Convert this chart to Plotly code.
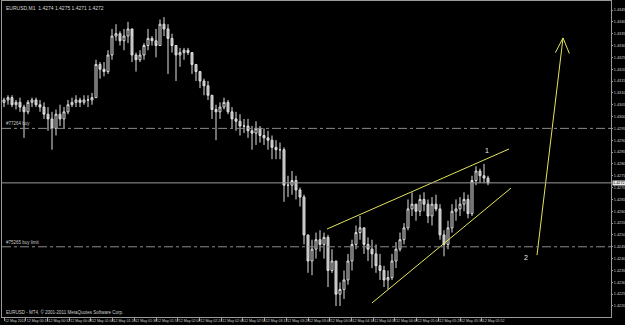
import plotly.graph_objects as go

# ---- data (EURUSD M1, prices) ----
highs = [1.4308,1.4309,1.4309,1.4307,1.4308,1.4305,1.4307,1.4308,1.4308,1.4307,
         1.4306,1.4304,1.4302,1.4303,1.4305,1.4304,1.4307,1.4308,1.4309,1.4308,
         1.4309,1.4309,1.4310,1.4324,1.4323,1.4323,1.4328,1.4337,1.4339,1.4336,
         1.4337,1.4340,1.4334,1.4327,1.4328,1.4331,1.4337,1.4334,1.4337,1.4341,
         1.4342,1.4339,1.4335,1.4330,1.4329,1.4329,1.4329,1.4326,1.4322,1.4319,
         1.4316,1.4315,1.4309,1.4305,1.4306,1.4308,1.4307,1.4304,1.4302,1.4301,
         1.4299,1.4299,1.4296,1.4298,1.4296,1.4295,1.4294,1.4292,1.4290,1.4289,
         1.4287,1.4275,1.4277,1.4275,1.4270,1.4267,1.4250,1.4248,1.4251,1.4252,
         1.4251,1.4250,1.4244,1.4239,1.4230,1.4235,1.4242,1.4248,1.4254,1.4258,
         1.4253,1.4249,1.4248,1.4246,1.4242,1.4237,1.4235,1.4242,1.4247,1.4251,
         1.4255,1.4265,1.4268,1.4263,1.4267,1.4268,1.4265,1.4266,1.4267,1.4263,
         1.4252,1.4256,1.4263,1.4265,1.4266,1.4268,1.4267,1.4275,1.4279,1.4278,
         1.4280,1.4275]
lows = [1.4304,1.4305,1.4304,1.4303,1.4302,1.4291,1.4301,1.4304,1.4304,1.4302,
        1.4299,1.4294,1.4286,1.4292,1.4296,1.4295,1.4301,1.4304,1.4304,1.4304,
        1.4305,1.4304,1.4305,1.4308,1.4316,1.4317,1.4318,1.4324,1.4332,1.4330,
        1.4328,1.4331,1.4323,1.4319,1.4323,1.4324,1.4328,1.4330,1.4325,1.4330,
        1.4334,1.4318,1.4327,1.4315,1.4321,1.4324,1.4326,1.4318,1.4315,1.4312,
        1.4309,1.4307,1.4299,1.4290,1.4299,1.4303,1.4301,1.4295,1.4294,1.4292,
        1.4293,1.4291,1.4286,1.4288,1.4289,1.4288,1.4286,1.4282,1.4282,1.4282,
        1.4264,1.4266,1.4267,1.4265,1.4262,1.4246,1.4234,1.4233,1.4240,1.4243,
        1.4240,1.4228,1.4234,1.4220,1.4220,1.4223,1.4229,1.4235,1.4244,1.4248,
        1.4242,1.4239,1.4236,1.4234,1.4231,1.4228,1.4227,1.4231,1.4236,1.4243,
        1.4246,1.4252,1.4258,1.4256,1.4258,1.4260,1.4255,1.4254,1.4260,1.4248,
        1.4241,1.4244,1.4251,1.4256,1.4258,1.4260,1.4257,1.4258,1.4271,1.4272,
        1.4272,1.4271]
closes = [1.4307,1.4308,1.4305,1.4306,1.4304,1.4302,1.4306,1.4307,1.4305,1.4304,
          1.4301,1.4299,1.4295,1.4301,1.4299,1.4302,1.4305,1.4306,1.4307,1.4306,
          1.4307,1.4307,1.4308,1.4322,1.4320,1.4319,1.4326,1.4334,1.4335,1.4332,
          1.4334,1.4337,1.4326,1.4324,1.4326,1.4330,1.4333,1.4332,1.4330,1.4339,
          1.4337,1.4333,1.4330,1.4326,1.4327,1.4328,1.4327,1.4322,1.4319,1.4315,
          1.4313,1.4309,1.4303,1.4302,1.4304,1.4306,1.4302,1.4299,1.4298,1.4296,
          1.4296,1.4294,1.4293,1.4295,1.4292,1.4291,1.4290,1.4287,1.4286,1.4286,
          1.4271,1.4271,1.4273,1.4269,1.4266,1.4250,1.4239,1.4244,1.4248,1.4246,
          1.4249,1.4235,1.4239,1.4225,1.4227,1.4231,1.4239,1.4246,1.4251,1.4253,
          1.4246,1.4244,1.4242,1.4237,1.4235,1.4231,1.4232,1.4239,1.4244,1.4248,
          1.4253,1.4261,1.4263,1.4260,1.4265,1.4263,1.4258,1.4263,1.4261,1.4250,
          1.4246,1.4253,1.4260,1.4261,1.4263,1.4265,1.4259,1.4273,1.4277,1.4275,
          1.4274,1.4272]
first_open = 1.4306
opens = [first_open] + closes[:-1]

y_ticks = [round(1.4220 + 0.0005 * k, 4) for k in range(26)]
time_labels = ["12 May 2011", "12 May 00:16", "12 May 00:32", "12 May 00:48",
               "12 May 01:04", "12 May 01:20", "12 May 01:36", "12 May 01:52",
               "12 May 02:08", "12 May 02:24", "12 May 02:40", "12 May 02:56",
               "12 May 03:12", "12 May 03:28", "12 May 03:44", "12 May 04:00",
               "12 May 04:16", "12 May 04:32", "12 May 04:48", "12 May 05:04",
               "12 May 05:20", "12 May 05:36", "12 May 05:52"]
order_levels = [1.4295, 1.4245]
order_names = ["#77264 buy", "#75265 buy limit"]
bid = closes[-1]

upper_line = ([80.75, 126.25], [1.42525, 1.42863])
lower_line = ([92.0, 126.75], [1.42213, 1.42698])
arrow_line = ([133.25, 139.75], [1.42415, 1.43332])
wave_labels = [("1", 120.75, 1.42855), ("2", 130.5, 1.42403)]

FONT = "Liberation Sans"
NARROW = "Liberation Sans Narrow, Liberation Sans"
n = len(closes)
x = list(range(n))

fig = go.Figure()
fig.add_trace(go.Candlestick(
    x=x, open=opens, high=highs, low=lows, close=closes,
    increasing=dict(line=dict(color="#e0e0e0", width=1), fillcolor="#000000"),
    decreasing=dict(line=dict(color="#e0e0e0", width=1), fillcolor="#b0b0b0"),
    whiskerwidth=0, showlegend=False, hoverinfo="skip"))

for xs, ys in (upper_line, lower_line, arrow_line):
    fig.add_trace(go.Scatter(x=xs, y=ys, mode="lines",
                             line=dict(color="#e4e45c", width=1),
                             showlegend=False, hoverinfo="skip"))

xmin, xmax = -0.5, 151.75
ymin, ymax = 1.421535, 1.434880

shapes = []
shapes.append(dict(type="line", xref="paper", x0=0, x1=1, yref="y", y0=bid, y1=bid,
                   line=dict(color="#9a9a9a", width=1)))
for lv in order_levels:
    shapes.append(dict(type="line", xref="paper", x0=0, x1=1, yref="y", y0=lv, y1=lv,
                       line=dict(color="#8a8a8a", width=1, dash="dashdot")))
tipx, tipy = arrow_line[0][1], arrow_line[1][1]
shapes.append(dict(type="line", xref="x", yref="y", x0=tipx, y0=tipy,
                   x1=tipx - 1.9, y1=tipy - 0.00062, line=dict(color="#e4e45c", width=1)))
shapes.append(dict(type="line", xref="x", yref="y", x0=tipx, y0=tipy,
                   x1=tipx + 1.6, y1=tipy - 0.00066, line=dict(color="#e4e45c", width=1)))

annotations = []
title_txt = "EURUSD,M1  %.4f %.4f %.4f %.4f" % (opens[-1], highs[-1], lows[-1], closes[-1])
annotations.append(dict(text=title_txt, xref="paper", yref="paper", x=0.003, y=0.995,
                        xanchor="left", yanchor="top", showarrow=False,
                        font=dict(family=FONT, size=5, color="#d8d8d8")))
annotations.append(dict(text="EURUSD - MT4, © 2001-2011 MetaQuotes Software Corp.",
                        xref="paper", yref="paper", x=0.003, y=0.0, xanchor="left",
                        yanchor="bottom", showarrow=False,
                        font=dict(family=NARROW, size=4.5, color="#d0d0d0")))
for lv, nm in zip(order_levels, order_names):
    annotations.append(dict(text=nm, xref="paper", yref="y", x=0.003, y=lv,
                            xanchor="left", yanchor="bottom", showarrow=False,
                            font=dict(family=FONT, size=4.5, color="#c8c8c8")))
for t, lx, ly in wave_labels:
    annotations.append(dict(text=t, x=lx, y=ly, xref="x", yref="y", showarrow=False,
                            font=dict(family=FONT, size=7, color="#f0f0f0")))
annotations.append(dict(text="%.4f" % bid, xref="paper", yref="y", x=1.002, y=bid,
                        xanchor="left", yanchor="middle", showarrow=False,
                        bgcolor="#e8e8e8", borderpad=0,
                        font=dict(family=NARROW, size=3.8, color="#000000")))

tick_step = 5.43
fig.update_layout(
    width=625, height=325,
    margin=dict(l=2, r=14, t=1, b=8, autoexpand=False),
    paper_bgcolor="#000000", plot_bgcolor="#000000",
    shapes=shapes, annotations=annotations,
    xaxis=dict(range=[xmin, xmax], rangeslider=dict(visible=False),
               showgrid=False, zeroline=False, automargin=False,
               showline=True, linecolor="#9a9a9a", linewidth=1, mirror=True,
               ticks="outside", ticklen=3, tickcolor="#9a9a9a", tickangle=0,
               tickvals=[k * tick_step for k in range(len(time_labels))],
               ticktext=time_labels, ticklabelposition="outside right",
               tickfont=dict(family=NARROW, size=3.6, color="#d0d0d0")),
    yaxis=dict(range=[ymin, ymax], side="right",
               showgrid=False, zeroline=False, automargin=False,
               showline=True, linecolor="#9a9a9a", linewidth=1, mirror=True,
               ticks="outside", ticklen=1, tickcolor="#9a9a9a",
               tickvals=y_ticks, ticktext=["%.4f" % v for v in y_ticks],
               tickfont=dict(family=NARROW, size=3.8, color="#d0d0d0")),
)

fig.write_html("out.html")
